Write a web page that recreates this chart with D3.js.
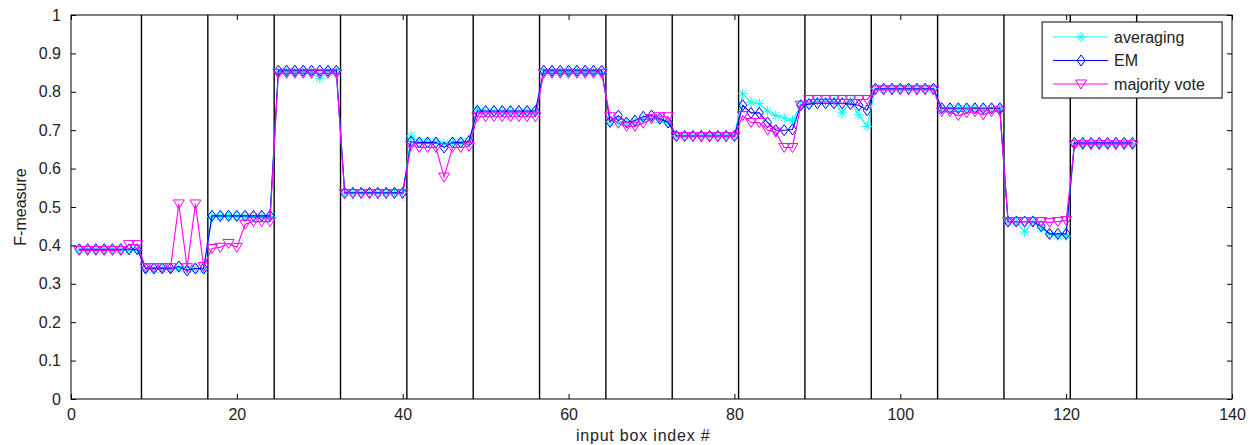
<!DOCTYPE html>
<html>
<head>
<meta charset="utf-8">
<script src="https://cdn.jsdelivr.net/npm/d3@7"></script>
<style>
  body { margin: 0; background: #fff; }
  text { font-family: Arial, "Liberation Sans", sans-serif; fill: #222; }
</style>
</head>
<body>
<div id="chart"></div>
<script>
// F-measure per input box, 128 boxes in 16 groups of 8
const averaging = [
  0.388, 0.388, 0.388, 0.388, 0.388, 0.388, 0.388, 0.388,
  0.338, 0.338, 0.338, 0.338, 0.340, 0.338, 0.340, 0.338,
  0.475, 0.475, 0.475, 0.475, 0.475, 0.475, 0.475, 0.475,
  0.852, 0.852, 0.852, 0.852, 0.850, 0.835, 0.852, 0.852,
  0.537, 0.537, 0.537, 0.537, 0.537, 0.537, 0.537, 0.537,
  0.685, 0.670, 0.670, 0.670, 0.665, 0.670, 0.670, 0.670,
  0.755, 0.748, 0.748, 0.748, 0.748, 0.748, 0.748, 0.748,
  0.852, 0.852, 0.852, 0.852, 0.852, 0.852, 0.852, 0.852,
  0.722, 0.722, 0.718, 0.722, 0.728, 0.730, 0.728, 0.720,
  0.685, 0.685, 0.685, 0.685, 0.685, 0.685, 0.685, 0.685,
  0.795, 0.773, 0.769, 0.750, 0.738, 0.732, 0.725, 0.765,
  0.770, 0.775, 0.775, 0.775, 0.745, 0.775, 0.740, 0.710,
  0.807, 0.807, 0.807, 0.807, 0.807, 0.807, 0.807, 0.807,
  0.756, 0.756, 0.756, 0.756, 0.756, 0.756, 0.756, 0.756,
  0.462, 0.462, 0.435, 0.462, 0.445, 0.430, 0.425, 0.425,
  0.665, 0.665, 0.665, 0.665, 0.665, 0.665, 0.665, 0.665
];
const em = [
  0.390, 0.390, 0.390, 0.390, 0.390, 0.390, 0.390, 0.390,
  0.340, 0.340, 0.340, 0.340, 0.345, 0.335, 0.340, 0.340,
  0.477, 0.477, 0.477, 0.477, 0.477, 0.477, 0.477, 0.477,
  0.855, 0.855, 0.855, 0.855, 0.855, 0.855, 0.855, 0.855,
  0.537, 0.537, 0.537, 0.537, 0.537, 0.537, 0.537, 0.537,
  0.670, 0.668, 0.668, 0.668, 0.655, 0.668, 0.668, 0.672,
  0.750, 0.750, 0.750, 0.750, 0.750, 0.750, 0.750, 0.750,
  0.855, 0.855, 0.855, 0.855, 0.855, 0.855, 0.855, 0.855,
  0.722, 0.738, 0.720, 0.725, 0.735, 0.738, 0.730, 0.720,
  0.685, 0.685, 0.685, 0.685, 0.685, 0.685, 0.685, 0.685,
  0.765, 0.745, 0.745, 0.720, 0.700, 0.700, 0.702, 0.765,
  0.768, 0.770, 0.770, 0.770, 0.770, 0.768, 0.765, 0.752,
  0.808, 0.808, 0.808, 0.808, 0.808, 0.808, 0.808, 0.808,
  0.757, 0.757, 0.757, 0.757, 0.757, 0.757, 0.757, 0.757,
  0.462, 0.462, 0.462, 0.462, 0.450, 0.430, 0.430, 0.430,
  0.667, 0.667, 0.667, 0.667, 0.667, 0.667, 0.667, 0.667
];
const majorityVote = [
  0.387, 0.387, 0.387, 0.387, 0.387, 0.387, 0.402, 0.402,
  0.342, 0.342, 0.342, 0.342, 0.508, 0.342, 0.508, 0.345,
  0.392, 0.395, 0.405, 0.395, 0.455, 0.462, 0.462, 0.462,
  0.848, 0.848, 0.848, 0.848, 0.848, 0.848, 0.848, 0.848,
  0.535, 0.535, 0.535, 0.535, 0.535, 0.535, 0.535, 0.535,
  0.660, 0.655, 0.655, 0.655, 0.578, 0.655, 0.655, 0.658,
  0.735, 0.735, 0.735, 0.735, 0.735, 0.735, 0.735, 0.735,
  0.848, 0.848, 0.848, 0.848, 0.848, 0.848, 0.848, 0.848,
  0.735, 0.718, 0.710, 0.710, 0.718, 0.730, 0.735, 0.735,
  0.683, 0.683, 0.683, 0.683, 0.683, 0.683, 0.683, 0.683,
  0.738, 0.720, 0.720, 0.700, 0.695, 0.655, 0.655, 0.765,
  0.780, 0.780, 0.780, 0.780, 0.780, 0.780, 0.780, 0.780,
  0.805, 0.805, 0.805, 0.805, 0.805, 0.805, 0.805, 0.805,
  0.748, 0.748, 0.738, 0.745, 0.748, 0.740, 0.748, 0.750,
  0.462, 0.462, 0.462, 0.462, 0.462, 0.460, 0.462, 0.465,
  0.662, 0.662, 0.662, 0.662, 0.662, 0.662, 0.662, 0.662
];
// group boundaries (vertical black lines)
const dividers = [8.5, 16.5, 24.5, 32.5, 40.5, 48.5, 56.5, 64.5, 72.5, 80.5, 88.5, 96.5, 104.5, 112.5, 120.5, 128.5];
const xTicks = [0, 20, 40, 60, 80, 100, 120, 140];
const yTicks = [0, 0.1, 0.2, 0.3, 0.4, 0.5, 0.6, 0.7, 0.8, 0.9, 1];

const series = [
  { name: 'averaging', values: averaging, color: '#00ffff', marker: 'star' },
  { name: 'EM', values: em, color: '#0000ff', marker: 'diamond' },
  { name: 'majority vote', values: majorityVote, color: '#ff00ff', marker: 'triangle' }
];

const W = 1255, H = 445;
const margin = { top: 15, right: 23, bottom: 46, left: 71 };
const width = W - margin.left - margin.right;
const height = H - margin.top - margin.bottom;

const svg = d3.select('#chart').append('svg')
  .attr('width', W)
  .attr('height', H);

const g = svg.append('g')
  .attr('transform', 'translate(' + margin.left + ',' + margin.top + ')');

const x = d3.scaleLinear().domain([0, 140]).range([0, width]);
const y = d3.scaleLinear().domain([0, 1]).range([height, 0]);

function markerPath(type) {
  if (type === 'star') {
    const r = 5, d = 3.6;
    return 'M' + (-r) + ',0H' + r + 'M0,' + (-r) + 'V' + r +
      'M' + (-d) + ',' + (-d) + 'L' + d + ',' + d + 'M' + (-d) + ',' + d + 'L' + d + ',' + (-d);
  }
  if (type === 'diamond') {
    return 'M0,-5.5L4,0L0,5.5L-4,0Z';
  }
  // downward triangle
  return 'M-5.5,-4L5.5,-4L0,5Z';
}

// divider lines
g.selectAll('.divider')
  .data(dividers)
  .enter().append('line')
  .attr('x1', d => x(d)).attr('x2', d => x(d))
  .attr('y1', 0).attr('y2', height)
  .attr('stroke', '#000')
  .attr('stroke-width', 1.4);

const line = d3.line()
  .x((d, i) => x(i + 1))
  .y(d => y(d));

series.forEach(s => {
  g.append('path')
    .datum(s.values)
    .attr('fill', 'none')
    .attr('stroke', s.color)
    .attr('stroke-width', 1.1)
    .attr('d', line);

  g.selectAll('.m-' + s.marker)
    .data(s.values)
    .enter().append('path')
    .attr('transform', (d, i) => 'translate(' + x(i + 1) + ',' + y(d) + ')')
    .attr('d', markerPath(s.marker))
    .attr('fill', 'none')
    .attr('stroke', s.color)
    .attr('stroke-width', 1);
});

// axes with inward ticks on all four sides
const tickLen = 5;
g.append('g')
  .attr('transform', 'translate(0,' + height + ')')
  .call(d3.axisBottom(x).tickValues(xTicks).tickSizeInner(-tickLen).tickSizeOuter(0).tickPadding(10).tickFormat(d3.format('d')))
  .call(a => a.select('.domain').remove());
g.append('g')
  .call(d3.axisTop(x).tickValues(xTicks).tickSizeInner(-tickLen).tickSizeOuter(0).tickFormat(''))
  .call(a => a.select('.domain').remove());
g.append('g')
  .call(d3.axisLeft(y).tickValues(yTicks).tickSizeInner(-tickLen).tickSizeOuter(0).tickPadding(10).tickFormat(d => d === 0 || d === 1 ? d3.format('d')(d) : d3.format('.1f')(d)))
  .call(a => a.select('.domain').remove());
g.append('g')
  .attr('transform', 'translate(' + width + ',0)')
  .call(d3.axisRight(y).tickValues(yTicks).tickSizeInner(-tickLen).tickSizeOuter(0).tickFormat(''))
  .call(a => a.select('.domain').remove());

g.selectAll('.tick line').attr('stroke', '#000');
g.selectAll('.tick text')
  .style('font-size', '16px')
  .style('font-family', 'Arial, "Liberation Sans", sans-serif')
  .attr('fill', '#222');

g.append('rect')
  .attr('width', width).attr('height', height)
  .attr('fill', 'none').attr('stroke', '#000').attr('stroke-width', 1);

// axis labels
svg.append('text')
  .attr('x', margin.left + x(69))
  .attr('y', 441)
  .attr('text-anchor', 'middle')
  .style('font-size', '16px')
  .style('letter-spacing', '0.8px')
  .text('input box index #');

svg.append('text')
  .attr('transform', 'translate(26,' + (margin.top + y(0.5)) + ')rotate(-90)')
  .attr('text-anchor', 'middle')
  .style('font-size', '16px')
  .text('F-measure');

// legend
const legend = g.append('g')
  .attr('transform', 'translate(' + x(117.1) + ',7)');
legend.append('rect')
  .attr('width', 180).attr('height', 76)
  .attr('fill', '#fff').attr('stroke', '#000').attr('stroke-width', 1);

series.forEach((s, i) => {
  const row = legend.append('g').attr('transform', 'translate(0,' + (15 + i * 23.5) + ')');
  row.append('line')
    .attr('x1', 11).attr('x2', 66)
    .attr('stroke', s.color).attr('stroke-width', 1.1);
  row.append('path')
    .attr('transform', 'translate(39,0)')
    .attr('d', markerPath(s.marker))
    .attr('fill', 'none').attr('stroke', s.color);
  row.append('text')
    .attr('x', 72).attr('dy', '0.35em')
    .style('font-size', '16px')
    .text(s.name);
});
</script>
</body>
</html>
